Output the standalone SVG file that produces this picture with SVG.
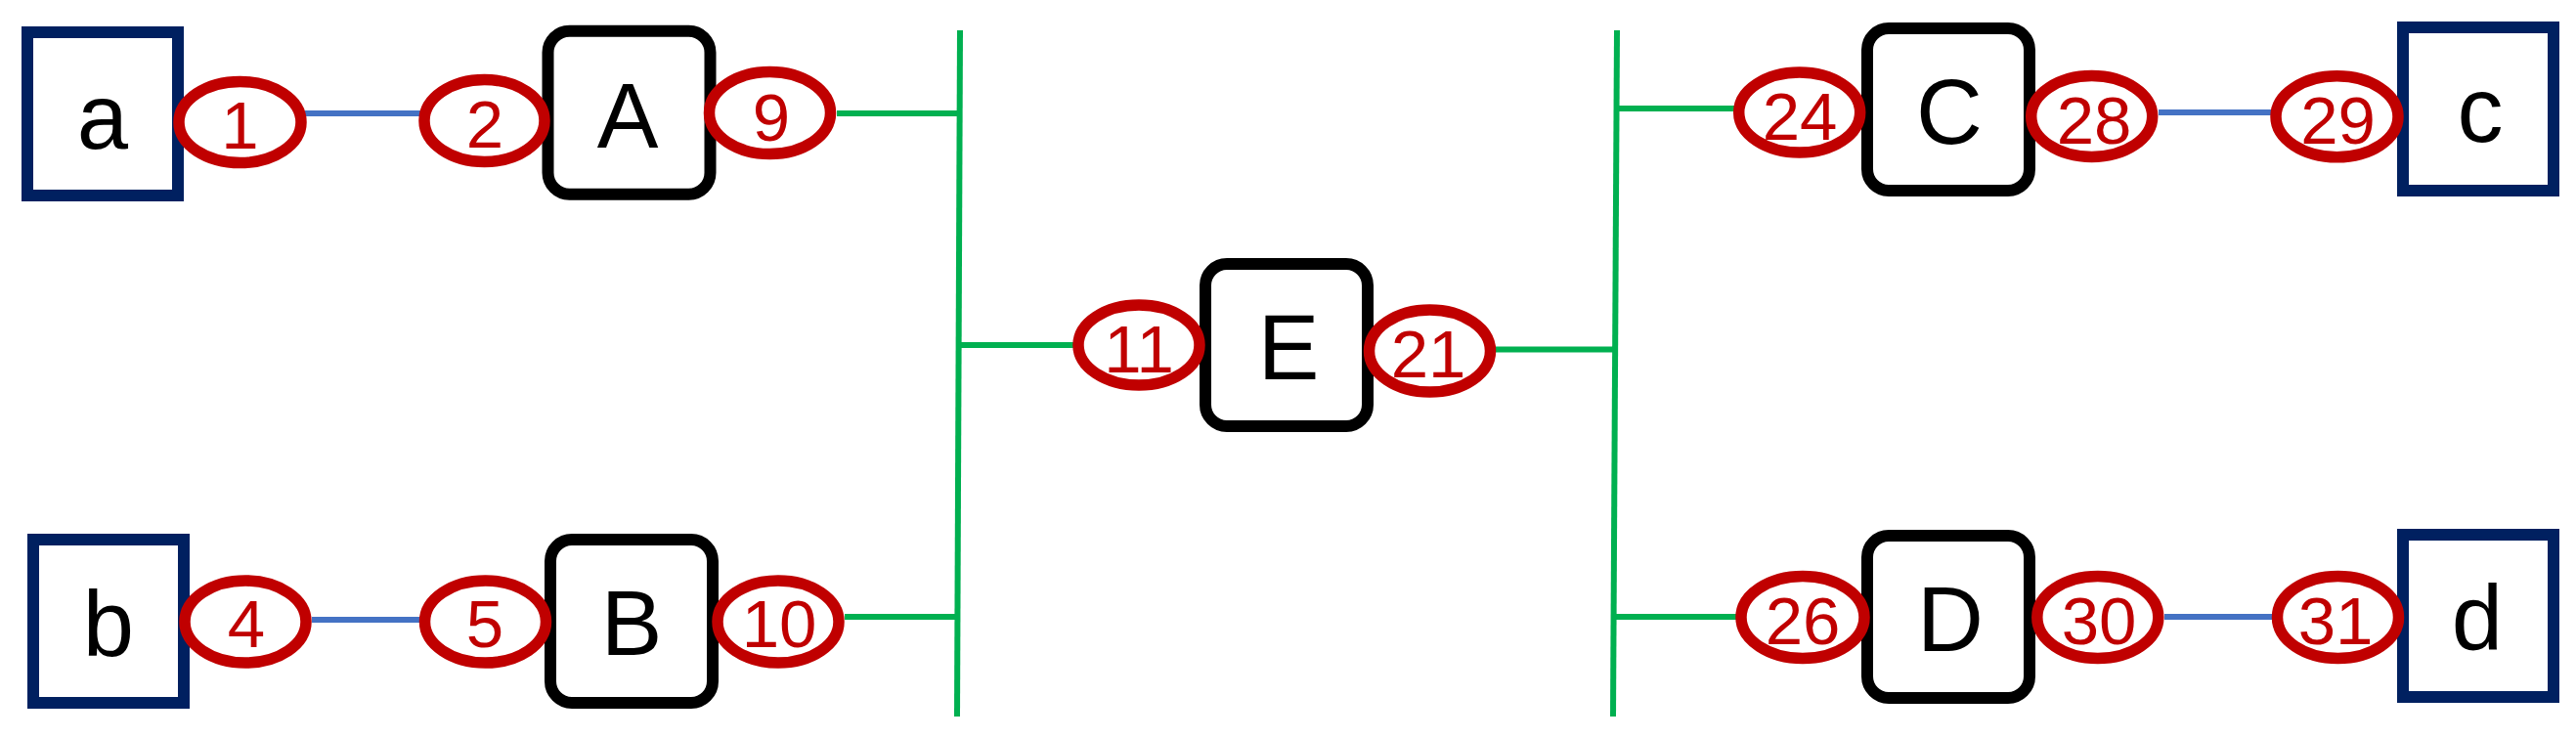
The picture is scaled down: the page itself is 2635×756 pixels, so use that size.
<svg xmlns="http://www.w3.org/2000/svg" width="2635" height="756" viewBox="0 0 2635 756">
<style>
.term{fill:#fff;stroke:#002060;stroke-width:12}
.node{fill:#fff;stroke:#000;stroke-width:12}
.port{fill:#fff;stroke:#C00000;stroke-width:11.5}
.lbl{font-family:"Liberation Sans",Arial,sans-serif;font-size:94px;fill:#000;text-anchor:middle}
.num{font-family:"Liberation Sans",Arial,sans-serif;font-size:69px;fill:#C00000;text-anchor:middle}
.blue{stroke:#4472C4;stroke-width:6;fill:none}
.green{stroke:#00B050;stroke-width:6;fill:none}
</style>
<rect width="2635" height="756" fill="#fff"/>
<g id="connectors">
<line class="blue" x1="312" y1="116" x2="440" y2="116"/>
<line class="blue" x1="319" y1="634" x2="434" y2="634"/>
<line class="blue" x1="2208" y1="115" x2="2334" y2="115"/>
<line class="blue" x1="2214" y1="631" x2="2338" y2="631"/>
<line class="green" x1="982" y1="31" x2="979" y2="733"/>
<line class="green" x1="1654" y1="31" x2="1650" y2="733"/>
<line class="green" x1="856" y1="116" x2="982" y2="116"/>
<line class="green" x1="864" y1="631" x2="980" y2="631"/>
<line class="green" x1="981" y1="353" x2="1104" y2="353"/>
<line class="green" x1="1530" y1="357.5" x2="1652" y2="357.5"/>
<line class="green" x1="1653" y1="111" x2="1776" y2="111"/>
<line class="green" x1="1651" y1="631" x2="1780" y2="631"/>
</g>
<g id="node-a"><rect class="term" x="28" y="33" width="154" height="167"/><text class="lbl" x="105" y="152">a</text></g>
<g id="node-b"><rect class="term" x="34" y="552" width="154" height="167"/><text class="lbl" x="111" y="671">b</text></g>
<g id="node-c"><rect class="term" x="2458" y="28" width="154" height="167"/><text class="lbl" x="2537" y="145">c</text></g>
<g id="node-d"><rect class="term" x="2458" y="547" width="154" height="166"/><text class="lbl" x="2534" y="665">d</text></g>
<g id="node-A"><rect class="node" x="560.5" y="31.7" width="166" height="167" rx="22"/><text class="lbl" x="642" y="151">A</text></g>
<g id="node-B"><rect class="node" x="563" y="552" width="166" height="167" rx="22"/><text class="lbl" x="646" y="670">B</text></g>
<g id="node-E"><rect class="node" x="1233" y="270" width="166" height="166" rx="22"/><text class="lbl" x="1318" y="388">E</text></g>
<g id="node-C"><rect class="node" x="1910" y="29" width="166" height="166" rx="22"/><text class="lbl" x="1994" y="147">C</text></g>
<g id="node-D"><rect class="node" x="1910" y="548" width="166" height="166" rx="22"/><text class="lbl" x="1995" y="666">D</text></g>
<g id="port-1"><ellipse class="port" cx="245.5" cy="125" rx="62.5" ry="41.5"/><text class="num" x="245.5" y="152">1</text></g>
<g id="port-2"><ellipse class="port" cx="495.5" cy="123.5" rx="61.5" ry="42"/><text class="num" x="496" y="151">2</text></g>
<g id="port-9"><ellipse class="port" cx="787.5" cy="115.5" rx="62" ry="42"/><text class="num" x="789" y="144">9</text></g>
<g id="port-4"><ellipse class="port" cx="251" cy="636" rx="62" ry="42"/><text class="num" x="252" y="662">4</text></g>
<g id="port-5"><ellipse class="port" cx="496.5" cy="636" rx="62" ry="42"/><text class="num" x="496" y="662">5</text></g>
<g id="port-10"><ellipse class="port" cx="796" cy="636" rx="62" ry="42"/><text class="num" x="797" y="662">10</text></g>
<g id="port-11"><ellipse class="port" cx="1165" cy="353" rx="62" ry="41"/><text class="num" x="1165" y="381">11</text></g>
<g id="port-21"><ellipse class="port" cx="1462.5" cy="359" rx="62" ry="42"/><text class="num" x="1461" y="386">21</text></g>
<g id="port-24"><ellipse class="port" cx="1840.7" cy="115" rx="62" ry="41"/><text class="num" x="1841" y="143">24</text></g>
<g id="port-28"><ellipse class="port" cx="2139.7" cy="119" rx="62" ry="41.5"/><text class="num" x="2142" y="147">28</text></g>
<g id="port-29"><ellipse class="port" cx="2390.5" cy="119.3" rx="62.5" ry="41.5"/><text class="num" x="2391.5" y="147">29</text></g>
<g id="port-26"><ellipse class="port" cx="1844" cy="631.5" rx="63" ry="42"/><text class="num" x="1844" y="659">26</text></g>
<g id="port-30"><ellipse class="port" cx="2145.8" cy="631.5" rx="62" ry="42"/><text class="num" x="2147" y="659">30</text></g>
<g id="port-31"><ellipse class="port" cx="2391.5" cy="631.5" rx="62" ry="42"/><text class="num" x="2389" y="659">31</text></g>
</svg>
